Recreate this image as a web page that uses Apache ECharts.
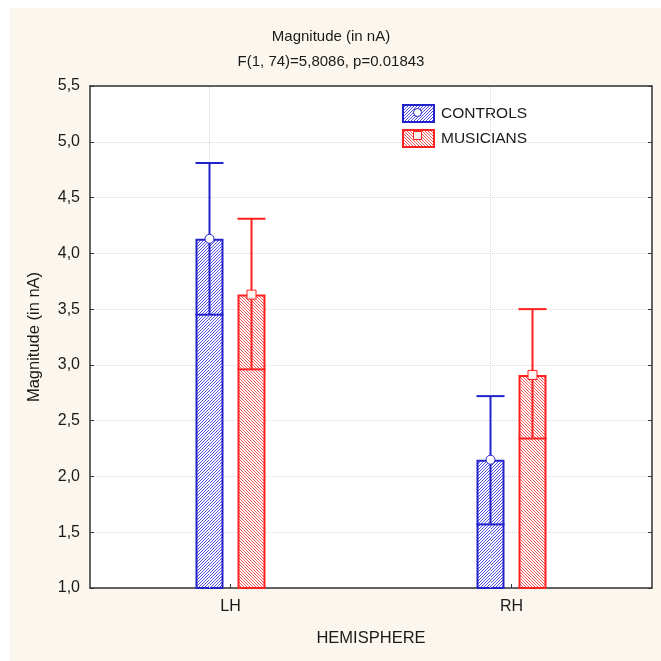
<!DOCTYPE html>
<html><head><meta charset="utf-8">
<script src="https://cdn.jsdelivr.net/npm/echarts@6/dist/echarts.min.js"></script>
<style>html,body{margin:0;padding:0;background:#fff;}#c{position:absolute;left:10px;top:8px;width:651px;height:653px;}</style>
</head><body><div id="c"></div>
<script>
const categories = ['LH', 'RH'];
const seriesNames = ['CONTROLS', 'MUSICIANS'];
const controlsMean = [4.13, 2.15];
const controlsLow = [3.45, 1.57];
const controlsHigh = [4.81, 2.72];
const musiciansMean = [3.63, 2.91];
const musiciansLow = [2.96, 2.34];
const musiciansHigh = [4.31, 3.50];
const yMin = 1.0, yMax = 5.5, yStep = 0.5;
const titleText = 'Magnitude (in nA)';
const subtitleText = 'F(1, 74)=5,8086, p=0.01843';
const xName = 'HEMISPHERE';
const yName = 'Magnitude (in nA)';

const FONT = 'Liberation Sans, Arial, sans-serif';
const TXT = '#1a1a1a';
const BLUE = '#2222cc';
const RED = '#ff2020';
const BAR_W = 28, GAP = 14;
const OFFSET = (BAR_W + GAP) / 2;

function hatch(color, dir) {
  const n = 3;
  const c = document.createElement('canvas');
  c.width = n; c.height = n;
  const ctx = c.getContext('2d');
  ctx.fillStyle = '#ffffff';
  ctx.fillRect(0, 0, n, n);
  ctx.fillStyle = color;
  for (let i = 0; i < n; i++) {
    const y = dir > 0 ? n - 1 - i : i;
    ctx.fillRect(i, y, 1, 1);
  }
  return c;
}
const bluePat = { image: hatch('#5050e6', 1), repeat: 'repeat' };
const redPat = { image: hatch('#f25a5a', -1), repeat: 'repeat' };

function errRender(color, shape, sign) {
  return function (params, api) {
    const i = api.value(0);
    const pm = api.coord([i, api.value(1)]);
    const x = pm[0] + sign * OFFSET;
    const ym = pm[1];
    const yl = api.coord([i, api.value(2)])[1];
    const yh = api.coord([i, api.value(3)])[1];
    const hw = BAR_W / 2;
    const ls = { stroke: color, lineWidth: 2 };
    const marker = shape === 'circle'
      ? { type: 'circle', shape: { cx: x, cy: ym, r: 4.5 }, style: { fill: '#ffffff', stroke: color, lineWidth: 1 } }
      : { type: 'rect', shape: { x: x - 4.5, y: ym - 4.5, width: 9, height: 9 }, style: { fill: '#fff6f2', stroke: color, lineWidth: 1 } };
    return {
      type: 'group',
      children: [
        { type: 'line', shape: { x1: x, y1: ym, x2: x, y2: yh }, style: ls },
        { type: 'line', shape: { x1: x - hw, y1: yh, x2: x + hw, y2: yh }, style: ls },
        { type: 'line', shape: { x1: x, y1: ym, x2: x, y2: yl }, style: ls },
        { type: 'line', shape: { x1: x - hw, y1: yl, x2: x + hw, y2: yl }, style: ls },
        marker
      ]
    };
  };
}

const LEG_L = 392, LEG_T = 96, LEG_W = 31, LEG_H = 17, LEG_GAP = 6;
const chart = echarts.init(document.getElementById('c'), null, { renderer: 'canvas' });
const axisLineStyle = { color: '#333333', width: 1.5 };
const option = {
  backgroundColor: '#fcf7ee',
  animation: false,
  textStyle: { fontFamily: FONT, color: TXT },
  title: [
    { text: titleText, left: 316, top: 16, textAlign: 'center', textStyle: { fontSize: 15, fontWeight: 'normal', color: TXT, fontFamily: FONT } },
    { text: subtitleText, left: 316, top: 41, textAlign: 'center', textStyle: { fontSize: 15, fontWeight: 'normal', color: TXT, fontFamily: FONT } }
  ],
  legend: {
    orient: 'vertical', left: LEG_L, top: LEG_T, padding: 0, itemWidth: LEG_W, itemHeight: LEG_H, itemGap: LEG_GAP,
    icon: 'rect', data: seriesNames,
    textStyle: { fontSize: 15.5, color: TXT, fontFamily: FONT, padding: [0, 0, 0, 2] }
  },
  grid: { left: 80, top: 78, right: 9, bottom: 73, show: true, backgroundColor: '#ffffff', borderWidth: 0 },
  xAxis: [
    {
      type: 'category', data: categories, position: 'bottom',
      axisLine: { show: true, lineStyle: axisLineStyle },
      axisTick: { show: true, inside: true, alignWithLabel: true, length: 4, lineStyle: { color: '#333' } },
      axisLabel: { margin: 11, fontSize: 16, color: TXT, fontFamily: FONT },
      splitLine: { show: false },
      name: xName, nameLocation: 'middle', nameGap: 42,
      nameTextStyle: { fontSize: 16.5, color: TXT, fontFamily: FONT }
    },
    {
      type: 'category', data: categories, position: 'top',
      axisLine: { show: true, lineStyle: axisLineStyle },
      axisTick: { show: false }, axisLabel: { show: false }, splitLine: { show: false }
    }
  ],
  yAxis: [
    {
      type: 'value', min: yMin, max: yMax, interval: yStep, position: 'left',
      axisLine: { show: true, lineStyle: axisLineStyle },
      axisTick: { show: true, inside: true, length: 4, lineStyle: { color: '#333' } },
      axisLabel: { margin: 10, fontSize: 16, color: TXT, fontFamily: FONT, formatter: v => v.toFixed(1).replace('.', ',') },
      splitLine: { show: true, lineStyle: { color: '#d9d9d9', type: 'dotted', width: 1 } },
      name: yName, nameLocation: 'middle', nameGap: 47, nameRotate: 90,
      nameTextStyle: { fontSize: 16.5, color: TXT, fontFamily: FONT }
    },
    {
      type: 'value', min: yMin, max: yMax, interval: yStep, position: 'right',
      axisLine: { show: true, lineStyle: axisLineStyle },
      axisTick: { show: true, inside: true, length: 4, lineStyle: { color: '#333' } },
      axisLabel: { show: false }, splitLine: { show: false }
    }
  ],
  series: [
    {
      name: seriesNames[0], type: 'bar', data: controlsMean, barWidth: BAR_W, barGap: (GAP / BAR_W * 100) + '%',
      itemStyle: { color: bluePat, borderColor: BLUE, borderWidth: 2 },
      markLine: {
        silent: true, symbol: 'none', label: { show: false },
        lineStyle: { color: '#d9d9d9', type: 'dotted', width: 1 },
        data: categories.map(c => ({ xAxis: c }))
      },
      z: 2
    },
    {
      name: seriesNames[1], type: 'bar', data: musiciansMean, barWidth: BAR_W,
      itemStyle: { color: redPat, borderColor: RED, borderWidth: 2 },
      z: 2
    },
    {
      name: 'controls-ci', type: 'custom', z: 5,
      data: categories.map((c, i) => [i, controlsMean[i], controlsLow[i], controlsHigh[i]]),
      renderItem: errRender(BLUE, 'circle', -1)
    },
    {
      name: 'musicians-ci', type: 'custom', z: 5,
      data: categories.map((c, i) => [i, musiciansMean[i], musiciansLow[i], musiciansHigh[i]]),
      renderItem: errRender(RED, 'rect', 1)
    }
  ],
  graphic: [
    { type: 'circle', shape: { cx: LEG_L + LEG_W / 2, cy: LEG_T + LEG_H / 2, r: 4 }, style: { fill: '#ffffff', stroke: BLUE, lineWidth: 1 }, z: 100 },
    { type: 'rect', shape: { x: LEG_L + LEG_W / 2 - 4, y: LEG_T + LEG_H + LEG_GAP + LEG_H / 2 - 4, width: 8, height: 8 }, style: { fill: '#fff6f2', stroke: RED, lineWidth: 1 }, z: 100 }
  ]
};
chart.setOption(option);
</script>
</body></html>
